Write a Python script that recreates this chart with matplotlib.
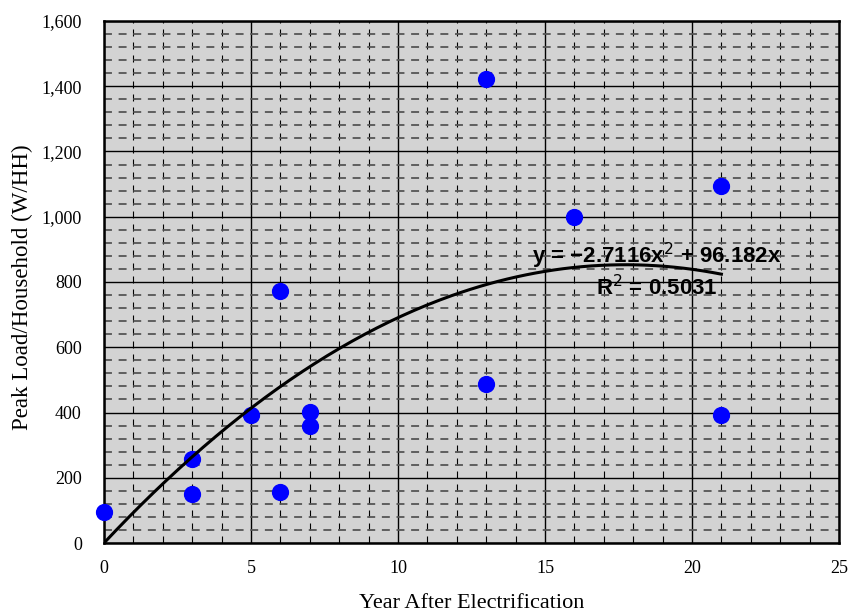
import numpy as np
import matplotlib
matplotlib.use("Agg")
import matplotlib.pyplot as plt
from matplotlib.ticker import MultipleLocator, FuncFormatter

# ---- data ----
years = [0, 3, 3, 5, 6, 6, 7, 7, 13, 13, 16, 21, 21]
peak = [95, 258, 150, 393, 772, 155, 403, 360, 1422, 487, 1000, 1095, 393]
coef_a, coef_b = -2.7116, 96.182
r2 = 0.5031

SERIF = "Liberation Serif"; SANS = "Liberation Sans"

fig = plt.figure(figsize=(8.49, 6.14), dpi=100)
ax = fig.add_axes([104/849, 1-543/614, 735/849, 522/614])
ax.set_facecolor("#d3d3d3")
ax.set_xlim(0, 25); ax.set_ylim(0, 1600)

ax.xaxis.set_major_locator(MultipleLocator(5)); ax.xaxis.set_minor_locator(MultipleLocator(1))
ax.yaxis.set_major_locator(MultipleLocator(200)); ax.yaxis.set_minor_locator(MultipleLocator(40))
ax.yaxis.set_major_formatter(FuncFormatter(lambda v, p: f"{v:,.0f}"))
ax.grid(which="major", color="black", lw=1.0, ls="-")
ax.grid(which="minor", axis="x", color="black", lw=0.8, ls=(0, (6.3, 5.4)))
ax.grid(which="minor", axis="y", color="#555555", lw=1.3, ls=(0, (4.4, 3.7)))
ax.set_axisbelow(True)
ax.tick_params(which="both", length=0)
ax.tick_params(axis="x", pad=12); ax.tick_params(axis="y", pad=16)
for lab in ax.get_xticklabels() + ax.get_yticklabels():
    lab.set_fontfamily(SERIF); lab.set_fontsize(13)
for s in ax.spines.values():
    s.set_linewidth(1.8)

ax.scatter(years, peak, s=130, color="#0000ff", zorder=3, clip_on=False)
xf = np.linspace(0, max(years), 200)
ax.plot(xf, coef_a*xf**2 + coef_b*xf, color="black", lw=2.2, zorder=4)

ax.text(18.8, 880, f"y = {coef_a:.4f}x$^2$ + {coef_b:.3f}x".replace("-", "\u2212"),
        ha="center", va="center", fontfamily=SANS, fontweight="bold", fontsize=16, zorder=5)
ax.text(18.8, 783, f"R$^2$ = {r2:.4f}", ha="center", va="center",
        fontfamily=SANS, fontweight="bold", fontsize=16, zorder=5)

ax.set_xlabel("Year After Electrification", fontfamily=SERIF, fontsize=16, va="center")
ax.set_ylabel("Peak Load/Household (W/HH)", fontfamily=SERIF, fontsize=16.5, va="center")
ax.xaxis.set_label_coords(0.5, -0.115)
ax.yaxis.set_label_coords(-0.1116, 0.49)

fig.savefig("out.png", dpi=100)
